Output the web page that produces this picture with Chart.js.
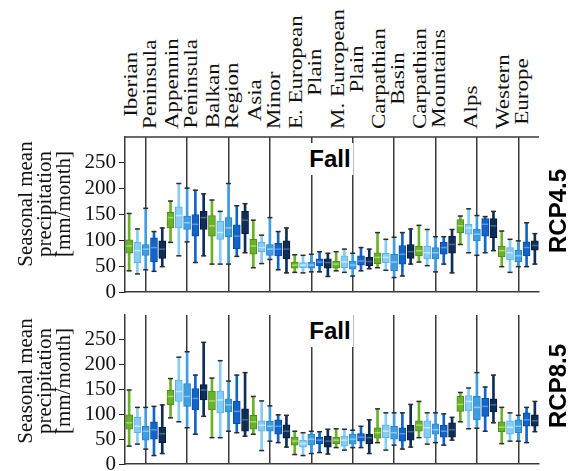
<!DOCTYPE html>
<html>
<head>
<meta charset="utf-8">
<script src="https://cdn.jsdelivr.net/npm/chart.js@4.4.1/dist/chart.umd.min.js"></script>
<style>
  html, body { margin: 0; padding: 0; background: #fff; }
  #wrap { position: relative; width: 576px; height: 471px; overflow: hidden; background: #fff; }
  canvas { position: absolute; left: 0; }
  .serif { position: absolute; font-family: 'Liberation Serif', 'Times New Roman', serif; font-size: 21px;
           line-height: 19px; color: #111; white-space: nowrap; text-align: center; }
  .region { position: absolute; font-family: 'Liberation Serif', 'Times New Roman', serif; font-size: 23px;
            line-height: 24px; color: #111; white-space: nowrap; text-align: center; }
  .bold { position: absolute; font-family: 'Liberation Sans', Arial, sans-serif; font-weight: bold;
          font-size: 24px; line-height: 28px; color: #000; white-space: nowrap; }
</style>
</head>
<body>
<div id="wrap">
  <canvas id="topChart" width="576" height="170" style="top:130px"></canvas>
  <canvas id="bottomChart" width="576" height="171" style="top:300px"></canvas>
</div>
<script>
// ---- data ----
const regions = [
  ['Iberian', 'Peninsula'], ['Appennin', 'Peninsula'], ['Balkan', 'Region'], ['Asia', 'Minor'],
  ['E. European', 'Plain'], ['M. European', 'Plain'], ['Carpathian', 'Basin'],
  ['Carpathian', 'Mountains'], ['Alps'], ['Western', 'Europe']
];
const yTicks = [0, 50, 100, 150, 200, 250];
const yTitle = ['Seasonal mean', 'precipitation', '[mm/month]'];
const season = 'Fall';
const scenarios = ['RCP4.5', 'RCP8.5'];

// one row per region: [whisker low, q1, median, q3, whisker high]
const rcp45Green = [[41,75,89,101,152],[96,124,144,154,176],[54,108,128,148,178],[47,73,89,102,139],[38,46,52,58,72],
                    [41,46,54,60,78],[47,55,67,76,115],[58,70,80,89,129],[92,115,128,140,147],[49,68,80,89,118]];
const rcp45Light = [[35,57,80,96,122],[70,124,148,165,210],[54,102,115,137,156],[55,78,86,96,110],[37,47,52,57,71],
                    [38,47,58,70,83],[42,57,67,75,102],[51,64,76,89,121],[76,112,124,131,161],[38,62,76,86,102]];
const rcp45Mid   = [[43,71,83,92,162],[97,121,134,147,201],[54,107,124,144,210],[63,71,83,92,144],[39,46,52,58,73],
                    [31,44,52,60,75],[28,41,58,73,106],[39,64,76,86,107],[71,99,112,122,148],[49,58,70,81,99]];
const rcp45Blue  = [[40,58,86,105,117],[57,108,131,150,197],[69,84,108,130,167],[43,70,83,94,117],[39,51,58,64,78],
                    [41,52,60,70,86],[31,54,73,90,115],[54,73,86,96,107],[76,108,131,142,146],[49,70,86,97,134]];
const rcp45Navy  = [[49,65,83,99,124],[70,121,144,156,190],[76,113,139,156,171],[37,64,83,99,124],[30,46,57,64,75],
                    [45,51,59,67,83],[54,65,78,92,122],[37,75,92,108,121],[80,105,128,142,156],[54,81,90,99,113]];

const rcp85Green = [[36,70,83,99,149],[93,119,136,149,172],[53,109,127,147,173],[60,70,85,98,136],[19,38,46,54,66],
                    [33,41,48,54,71],[43,52,63,73,111],[53,66,78,87,126],[85,106,120,136,144],[41,65,74,85,114]];
const rcp85Light = [[40,63,76,94,114],[85,126,146,169,215],[53,103,129,147,208],[27,66,78,87,127],[17,34,41,48,63],
                    [28,36,48,56,70],[28,53,66,79,103],[40,53,73,87,103],[71,107,126,138,153],[46,60,74,87,103]];
const rcp85Mid   = [[30,48,66,76,114],[73,116,136,162,226],[66,105,119,131,167],[46,66,76,86,117],[21,38,50,60,66],
                    [33,40,50,60,68],[38,50,63,76,103],[43,60,69,81,103],[72,89,114,136,184],[46,63,76,89,98]];
const rcp85Blue  = [[17,50,69,85,116],[60,109,132,152,179],[63,81,106,126,179],[43,60,76,89,99],[23,41,48,54,65],
                    [33,46,54,61,76],[30,46,61,73,103],[38,54,66,78,101],[66,96,116,132,155],[43,76,89,103,114]];
const rcp85Navy  = [[21,43,61,74,119],[96,129,149,160,245],[56,66,89,111,184],[34,52,66,79,98],[20,34,46,56,70],
                    [21,41,53,60,89],[34,48,65,78,120],[48,54,69,83,94],[83,105,119,131,179],[65,76,87,99,126]];

// ---- styles ----
const fills   = ['#6cb12a', '#86ccf4', '#3f9de2', '#1264c9', '#0f2e57'];
const edges   = ['#4e8c18', '#5cb2e6', '#2884c8', '#0a4ea6', '#071b36'];
const medians = ['#a9d86c', '#c8e9fb', '#8fc8f1', '#6098e0', '#4d6b92'];
const lineCol = '#3a3a3a';

// -------------------------------
// Build box-plot datasets
// -------------------------------
function boxDatasets(series) {
  const out = [];
  series.forEach((stats, j) => {
    const xOf = i => i + 0.5 + (j - 2) * 0.2;
    out.push({ type: 'bar', order: 4, grouped: false, barThickness: 2, backgroundColor: fills[j],
               data: stats.map((s, i) => ({ x: xOf(i), y: [s[0], s[4]] })) });
    out.push({ type: 'bar', order: 3, grouped: false, barThickness: 7, backgroundColor: fills[j],
               borderColor: edges[j], borderWidth: 1, borderSkipped: false,
               data: stats.map((s, i) => ({ x: xOf(i), y: [s[1], s[3]] })) });
    out.push({ type: 'scatter', order: 2, pointStyle: 'line', pointRadius: 3, pointBorderWidth: 1.5,
               pointBorderColor: medians[j], data: stats.map((s, i) => ({ x: xOf(i), y: s[2] })) });
    out.push({ type: 'scatter', order: 1, pointStyle: 'line', pointRadius: 2.5, pointBorderWidth: 1.5,
               pointBorderColor: '#2a2a2a',
               data: stats.flatMap((s, i) => [{ x: xOf(i), y: s[0] }, { x: xOf(i), y: s[4] }]) });
  });
  return out;
}

const frameTop = {
  id: 'frameTop',
  afterDatasetsDraw(chart, args, opts) {
    if (!opts.show) return;
    const { ctx, chartArea: a } = chart;
    ctx.save();
    ctx.strokeStyle = lineCol;
    ctx.lineWidth = 1.5;
    ctx.beginPath();
    ctx.moveTo(a.left, a.top);
    ctx.lineTo(a.right, a.top);
    ctx.stroke();
    ctx.restore();
  }
};

function makeChart(id, series, pad, showTop) {
  return new Chart(document.getElementById(id), {
    type: 'bar',
    data: { datasets: boxDatasets(series) },
    plugins: [frameTop],
    options: {
      responsive: false,
      animation: false,
      events: [],
      layout: { padding: pad },
      plugins: { legend: { display: false }, tooltip: { enabled: false }, frameTop: { show: showTop } },
      scales: {
        x: {
          type: 'linear', min: 0, max: regions.length, offset: false,
          afterBuildTicks: s => { s.ticks = regions.map((r, i) => ({ value: i })).concat([{ value: regions.length }]); },
          afterFit: s => { s.paddingLeft = 0; s.paddingRight = 0; },
          ticks: { display: false },
          grid: { color: lineCol, lineWidth: 1.5, drawTicks: false },
          border: { color: lineCol, width: 1.5 }
        },
        y: {
          min: 0, max: 300,
          afterBuildTicks: s => { s.ticks = yTicks.map(v => ({ value: v })); },
          afterFit: s => { s.width = 125; s.paddingTop = 0; s.paddingBottom = 0; },
          ticks: { color: '#111', padding: 3, font: { family: "'Liberation Serif', serif", size: 21 } },
          grid: { drawOnChartArea: false, color: '#222', tickLength: 6, lineWidth: 1 },
          border: { color: lineCol, width: 1.5 }
        }
      }
    }
  });
}

const topChart = makeChart('topChart', [rcp45Green, rcp45Light, rcp45Mid, rcp45Blue, rcp45Navy],
  { top: 7, bottom: 8, left: 0, right: 37 }, true);
const bottomChart = makeChart('bottomChart', [rcp85Green, rcp85Light, rcp85Mid, rcp85Blue, rcp85Navy],
  { top: 15, bottom: 7, left: 0, right: 37 }, false);

// -------------------------------
// Text around the panels
// -------------------------------
const wrap = document.getElementById('wrap');

function addText(cls, html, css) {
  const d = document.createElement('div');
  d.className = cls;
  d.innerHTML = html;
  Object.assign(d.style, css);
  wrap.appendChild(d);
  return d;
}

// region names, rotated, bottom-aligned on the top frame (slightly condensed like the original)
regions.forEach((lines, i) => {
  const cx = topChart.scales.x.getPixelForValue(i + 0.5);
  const h = lines.length * 24 * 0.8;
  addText('region', lines.join('<br>'), {
    left: (cx - h / 2 - 5) + 'px', top: '129px',
    transformOrigin: '0 0', transform: 'rotate(-90deg) scale(1, 0.8)'
  });
});

// y titles, season tags and scenario tags
[[204, 159, 211], [381, 331, 386]].forEach(([titleY, fallY, rcpY], k) => {
  addText('serif', yTitle.join('<br>'), {
    left: '44px', top: titleY + 'px', transform: 'translate(-50%,-50%) rotate(-90deg)'
  });
  addText('bold', season, {
    left: '330px', top: fallY + 'px', background: '#fff', padding: '2px 3px',
    transform: 'translate(-50%,-50%)'
  });
  addText('bold', scenarios[k], {
    left: '558px', top: rcpY + 'px', transform: 'translate(-50%,-50%) rotate(-90deg)'
  });
});
</script>
</body>
</html>
